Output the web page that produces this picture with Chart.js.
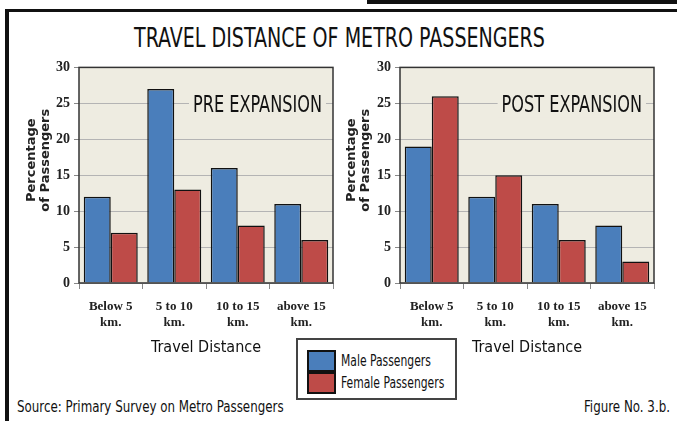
<!DOCTYPE html>
<html lang="en">

<head>
    <meta charset="UTF-8">
    <style>
        body {
            margin: 0;
            width: 677px;
            height: 421px;
            overflow: hidden;
            background: #fff;
            position: relative;
            font-family: "DejaVu Sans Condensed", sans-serif;
        }

        .topbar {
            position: absolute;
            left: 367px;
            top: 0;
            width: 320px;
            height: 4px;
            background: #111;
        }

        .frame {
            position: absolute;
            left: 5px;
            top: 9px;
            width: 700px;
            height: 430px;
            border-left: 4px solid #111;
            border-top: 3px solid #111;
        }

        .squeeze {
            display: inline-block;
            white-space: nowrap;
            transform-origin: left center;
        }

        #title {
            position: absolute;
            left: 134px;
            top: 22px;
            font-size: 27px;
            color: #111;
            transform: scaleX(0.785);
        }

        .chartbox {
            position: absolute;
            top: 55px;
            height: 305px;
        }

        #legend {
            position: absolute;
            left: 296px;
            top: 338px;
            width: 157px;
            height: 58px;
            border: 2px solid #444;
            background: #fff;
            z-index: 2;
        }

        .item {
            position: absolute;
            left: 9px;
            height: 22px;
            white-space: nowrap;
        }

        .swatch {
            position: absolute;
            left: 0;
            top: 0;
            width: 25px;
            height: 18px;
            border: 2px solid #111;
        }

        .item .squeeze {
            position: absolute;
            left: 34px;
            top: 1px;
            font-size: 15px;
            line-height: 20px;
            color: #111;
            transform: scaleX(0.8);
        }

        .foot {
            position: absolute;
            top: 398px;
            font-size: 15px;
            color: #111;
            transform: scaleX(0.88);
        }
    </style>
    <title>Travel Distance of Metro Passengers</title>
</head>

<body>
    <div class="topbar"></div>
    <div class="frame"></div>
    <div id="title" class="squeeze">TRAVEL DISTANCE OF METRO PASSENGERS</div>

    <div class="chartbox" style="left:0; width:340px;"><canvas id="preChart" width="340" height="305"></canvas></div>
    <div class="chartbox" style="left:340px; width:337px;"><canvas id="postChart" width="337" height="305"></canvas></div>

    <div id="legend">
        <div class="item" style="top:10px;"><span class="swatch" style="background:#4a7ebb"></span><span class="squeeze">Male Passengers</span></div>
        <div class="item" style="top:32px;"><span class="swatch" style="background:#be4b48"></span><span class="squeeze">Female Passengers</span></div>
    </div>

    <div class="foot squeeze" style="left:17px;">Source: Primary Survey on Metro Passengers</div>
    <div class="foot squeeze" style="left:584px;">Figure No. 3.b.</div>

    <script src="https://cdn.jsdelivr.net/npm/chart.js"></script>
    <script>
        var categories = [['Below 5', 'km.'], ['5 to 10', 'km.'], ['10 to 15', 'km.'], ['above 15', 'km.']];
        var preMale = [12, 27, 16, 11];
        var preFemale = [7, 13, 8, 6];
        var postMale = [19, 12, 11, 8];
        var postFemale = [26, 15, 6, 3];
        var yTitle = ['Percentage', 'of Passengers'];

        var maleColor = '#4a7ebb';
        var femaleColor = '#be4b48';
        var plotBg = '#eeece1';
        var narrow = '"DejaVu Sans Condensed", sans-serif';
        var serif = '"Liberation Serif", serif';

        // beige plot area, caption behind the bars, dark frame and the
        // y title (sits a bit above the middle of the plot) on top
        var plotDecor = {
            id: 'plotDecor',
            beforeDraw: function (chart) {
                var a = chart.chartArea, ctx = chart.ctx;
                ctx.save();
                ctx.fillStyle = plotBg;
                ctx.fillRect(a.left, a.top, a.width, a.height);
                ctx.restore();
            },
            beforeDatasetsDraw: function (chart, args, opts) {
                var a = chart.chartArea, ctx = chart.ctx;
                var sx = 0.78;
                ctx.save();
                ctx.font = '23px ' + narrow;
                ctx.textBaseline = 'middle';
                ctx.textAlign = 'right';
                var w = ctx.measureText(opts.text).width * sx;
                var x = a.right - opts.right, y = a.top + 39;
                ctx.fillStyle = plotBg;
                ctx.fillRect(x - w - 4, y - 11, w + 8, 22);
                ctx.translate(x, y);
                ctx.scale(sx, 1);
                ctx.fillStyle = '#111';
                ctx.fillText(opts.text, 0, 0);
                ctx.restore();
            },
            afterDraw: function (chart, args, opts) {
                var a = chart.chartArea, ctx = chart.ctx;
                ctx.save();
                ctx.strokeStyle = '#333';
                ctx.lineWidth = 1.5;
                ctx.strokeRect(a.left, a.top, a.width, a.height);

                ctx.translate(opts.titleX, (a.top + a.bottom) / 2 - 15);
                ctx.rotate(-Math.PI / 2);
                ctx.font = 'bold 13px "DejaVu Sans", sans-serif';
                ctx.fillStyle = '#222';
                ctx.textAlign = 'center';
                ctx.textBaseline = 'middle';
                ctx.fillText(yTitle[0], 0, 0);
                ctx.fillText(yTitle[1], 0, 14);
                ctx.restore();
            }
        };

        function makeChart(id, male, female, caption, g) {
            var ctx = document.getElementById(id).getContext('2d');
            return new Chart(ctx, {
                type: 'bar',
                data: {
                    labels: categories,
                    datasets: [{
                        label: 'Male Passengers',
                        data: male,
                        backgroundColor: maleColor,
                        borderColor: '#111',
                        borderWidth: 1.5
                    }, {
                        label: 'Female Passengers',
                        data: female,
                        backgroundColor: femaleColor,
                        borderColor: '#111',
                        borderWidth: 1.5
                    }]
                },
                options: {
                    responsive: false,
                    animation: false,
                    categoryPercentage: 0.85,
                    barPercentage: 1.0,
                    layout: { padding: { top: 10, right: g.padRight, left: 0, bottom: 0 } },
                    plugins: {
                        legend: { display: false },
                        tooltip: { enabled: false },
                        plotDecor: { text: caption, right: g.captionRight, titleX: g.titleX }
                    },
                    scales: {
                        x: {
                            grid: { drawOnChartArea: false, drawTicks: true, tickLength: 6, color: '#888' },
                            border: { display: false },
                            ticks: {
                                color: '#222',
                                padding: 10,
                                maxRotation: 0,
                                autoSkip: false,
                                font: { family: serif, size: 13, weight: 'bold', lineHeight: 1.2 }
                            },
                            title: {
                                display: true,
                                text: 'Travel Distance',
                                color: '#111',
                                padding: { top: 0, bottom: 3 },
                                font: { family: narrow, size: 16 }
                            },
                            afterFit: function (s) { s.height = 77; }
                        },
                        y: {
                            min: 0,
                            max: 30,
                            ticks: {
                                stepSize: 5,
                                color: '#222',
                                padding: 4,
                                font: { family: serif, size: 14, weight: 'bold' }
                            },
                            grid: { color: '#b4b4b4', tickColor: '#888', tickLength: 5 },
                            border: { display: false },
                            afterFit: function (s) { s.width = g.axisWidth; }
                        }
                    }
                },
                plugins: [plotDecor]
            });
        }

        makeChart('preChart', preMale, preFemale, 'PRE EXPANSION', { padRight: 7, axisWidth: 79, titleX: 32, captionRight: 11 });
        makeChart('postChart', postMale, postFemale, 'POST EXPANSION', { padRight: 23, axisWidth: 60, titleX: 12, captionRight: 12 });
    </script>
</body>

</html>
